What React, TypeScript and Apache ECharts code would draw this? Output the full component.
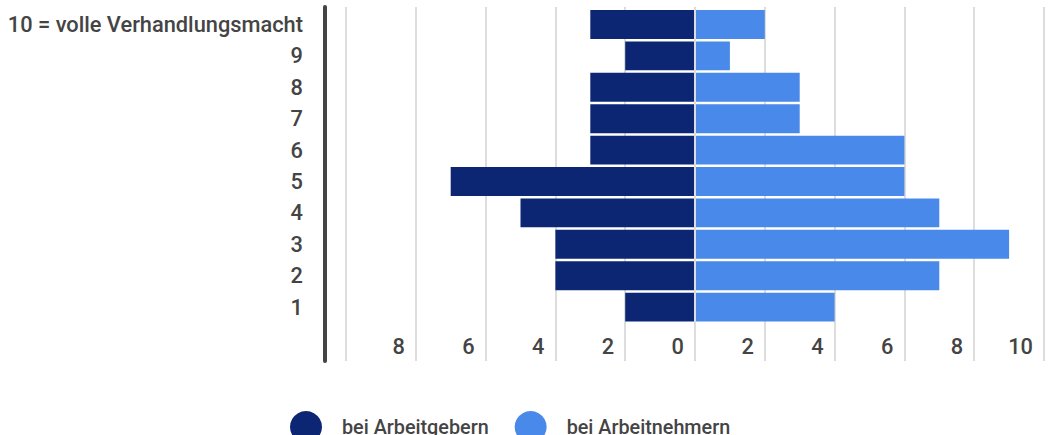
import React, { useEffect, useRef } from "react";
import * as echarts from "echarts";

const categories = ["10 = volle Verhandlungsmacht", "9", "8", "7", "6", "5", "4", "3", "2", "1"];
const arbeitgeber = [3, 2, 3, 3, 3, 7, 5, 4, 4, 2];
const arbeitnehmer = [2, 1, 3, 3, 6, 6, 7, 9, 7, 4];
const tickValues = [-10, -8, -6, -4, -2, 0, 2, 4, 6, 8, 10];
const tickLabels = ["", "8", "6", "4", "2", "0", "2", "4", "6", "8", "10"];
const seriesNames = ["bei Arbeitgebern", "bei Arbeitnehmern"];

const DARK = "#0c2674";
const LIGHT = "#4889ea";
const TEXT = "#444444";
const FONT = "Roboto";
const WEIGHT = 500;

export default function App() {
  const ref = useRef<HTMLDivElement>(null);
  useEffect(() => {
    document.body.style.margin = "0";
    const chart = echarts.init(ref.current!, null, { renderer: "svg" });
    chart.setOption({
      animation: false,
      textStyle: { fontFamily: FONT },
      legend: {
        data: seriesNames,
        left: 285,
        top: 406,
        icon: "circle",
        itemWidth: 32,
        itemHeight: 32,
        itemGap: 26,
        textStyle: {
          fontSize: 19.8,
          fontWeight: WEIGHT,
          color: TEXT,
          fontFamily: FONT,
          padding: [0, 0, 0, 15],
        },
      },
      grid: [
        { left: 346, right: 5, top: 7, height: 354 },
        { left: 346, right: 5, top: 8.8, height: 314 },
      ],
      xAxis: [
        {
          gridIndex: 0,
          type: "value",
          min: -10,
          max: 10,
          interval: 2,
          axisLine: { show: false },
          axisTick: { show: false },
          splitLine: { show: true, lineStyle: { color: "#dddddd", width: 2 } },
          axisLabel: {
            inside: true,
            margin: 4,
            align: "right",
            padding: [0, 11, 0, 0],
            fontSize: 21.8,
            fontWeight: WEIGHT,
            color: TEXT,
            fontFamily: FONT,
            formatter: (v: number) => tickLabels[tickValues.indexOf(v)] ?? "",
          },
        },
        {
          gridIndex: 1,
          type: "value",
          min: -10,
          max: 10,
          interval: 2,
          show: false,
          splitLine: { show: false },
        },
      ],
      yAxis: [
        {
          gridIndex: 0,
          type: "value",
          position: "left",
          offset: 21,
          axisLine: { show: true, onZero: false, lineStyle: { color: TEXT, width: 4 } },
          axisTick: { show: false },
          axisLabel: { show: false },
          splitLine: { show: false },
        },
        {
          gridIndex: 1,
          type: "category",
          data: categories,
          inverse: true,
          axisLine: { show: false },
          axisTick: { show: false },
          axisLabel: {
            margin: 43,
            fontSize: 21.8,
            fontWeight: WEIGHT,
            color: TEXT,
            fontFamily: FONT,
          },
        },
      ],
      series: [
        {
          name: seriesNames[0],
          type: "bar",
          xAxisIndex: 1,
          yAxisIndex: 1,
          stack: "total",
          barCategoryGap: "8%",
          itemStyle: { color: DARK },
          data: arbeitgeber.map((v) => -v),
          markLine: {
            silent: true,
            symbol: "none",
            label: { show: false },
            lineStyle: { color: "#dddddd", width: 2, type: "solid" },
            data: [{ xAxis: 0 }],
            z: 10,
          },
        },
        {
          name: seriesNames[1],
          type: "bar",
          xAxisIndex: 1,
          yAxisIndex: 1,
          stack: "total",
          barCategoryGap: "8%",
          itemStyle: { color: LIGHT },
          data: arbeitnehmer,
        },
      ],
    });
    return () => chart.dispose();
  }, []);
  return <div ref={ref} style={{ width: 1049, height: 435 }} />;
}
